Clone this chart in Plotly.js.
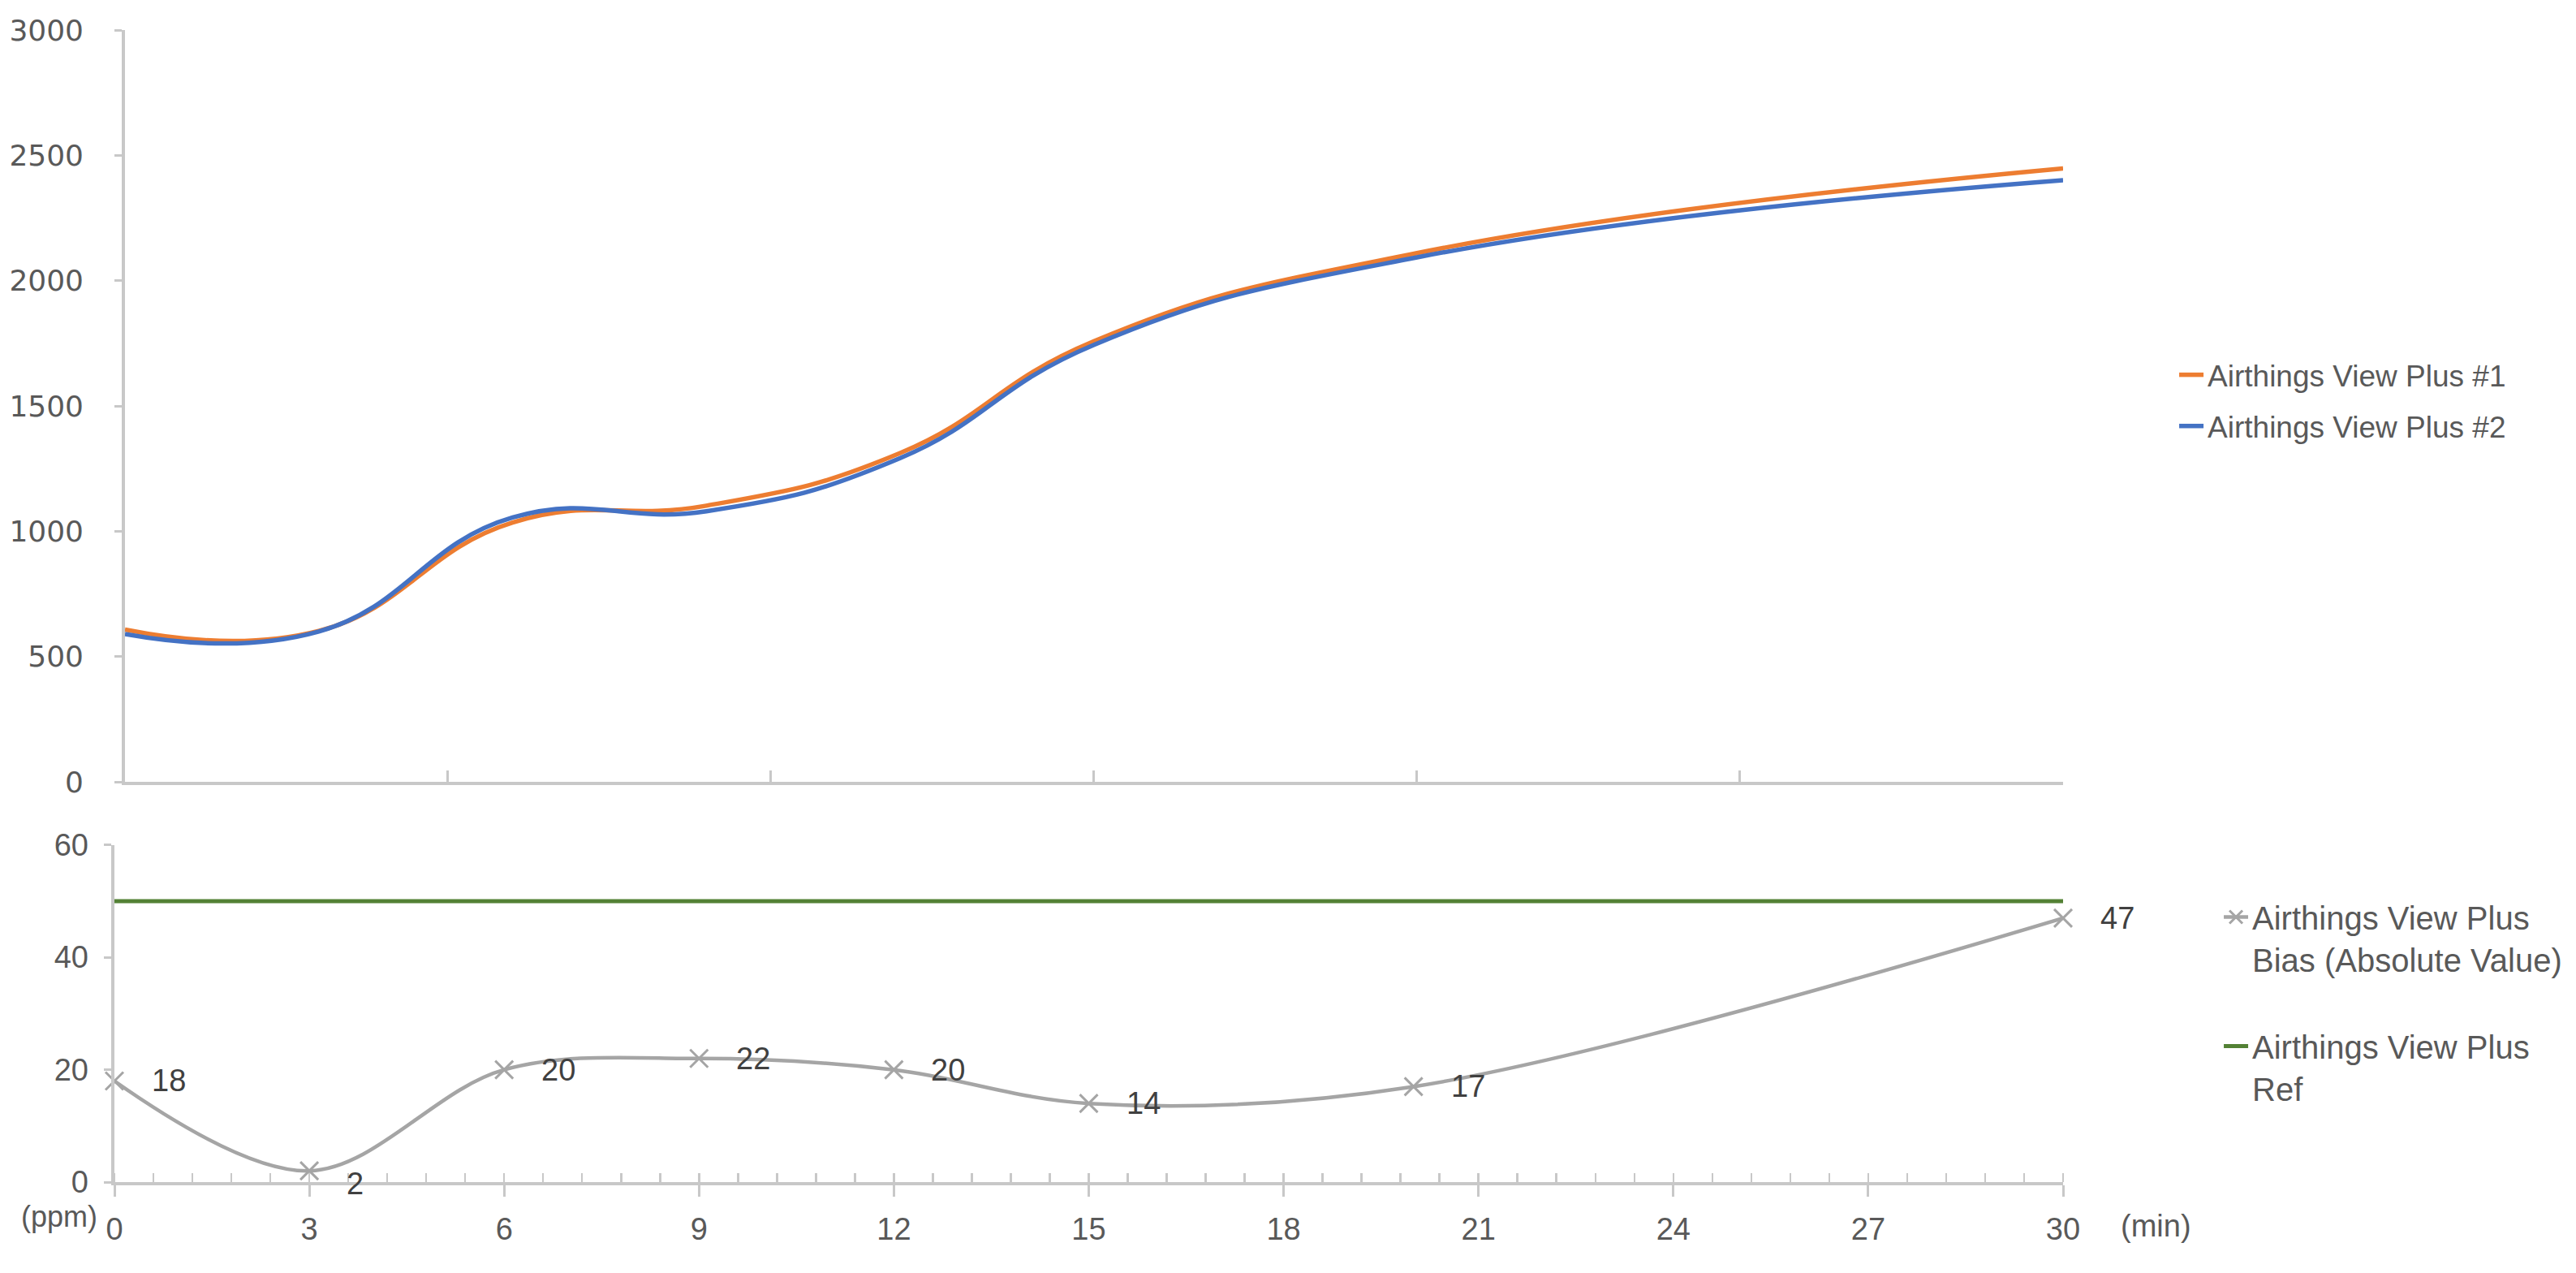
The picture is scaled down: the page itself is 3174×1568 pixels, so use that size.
<!DOCTYPE html>
<html>
<head>
<meta charset="utf-8">
<script src="https://cdn.plot.ly/plotly-3.0.1.min.js"></script>
<style>
  html, body { margin: 0; padding: 0; background: #fff; }
  #chart { width: 3174px; height: 1568px; }
</style>
</head>
<body>
<div id="chart"></div>
<script>
// sample times (min) shared by both panels
const minutes = [0, 3, 6, 9, 12, 15, 20, 30];

// CO2 readings (ppm) of the two units
const unit1 = [608, 602, 1035, 1102, 1312, 1758, 2110, 2448];
const unit2 = [590, 600, 1055, 1080, 1292, 1744, 2093, 2401];

// absolute bias between the units, and the reference limit
const bias = [18, 2, 20, 22, 20, 14, 17, 47];
const refLimit = [50, 50, 50, 50, 50, 50, 50, 50];

const names = [
  'Airthings View Plus #1',
  'Airthings View Plus #2',
  'Airthings View Plus<br>Bias (Absolute Value)',
  'Airthings View Plus<br>Ref'
];

const topTicks = [0, 500, 1000, 1500, 2000, 2500, 3000];
const biasTicks = [0, 20, 40, 60];

const FONT = '"Liberation Sans", Arial, sans-serif';
const AXIS = '#c8c8c8';
const TEXT = '#595959';

const traces = [
  {
    x: minutes, y: unit1, name: names[0], xaxis: 'x', yaxis: 'y',
    mode: 'lines', line: {color: '#ED7D31', width: 5.5, shape: 'spline', smoothing: 1.3},
    legend: 'legend', legendgroup: 'a'
  },
  {
    x: minutes, y: unit2, name: names[1], xaxis: 'x', yaxis: 'y',
    mode: 'lines', line: {color: '#4472C4', width: 5.5, shape: 'spline', smoothing: 1.3},
    legend: 'legend', legendgroup: 'b'
  },
  {
    x: minutes, y: bias, name: names[2], xaxis: 'x2', yaxis: 'y2',
    mode: 'lines+markers', line: {color: '#A5A5A5', width: 4.5, shape: 'spline', smoothing: 1},
    marker: {symbol: 'x-thin', size: 22, color: '#A5A5A5', line: {color: '#A5A5A5', width: 3}},
    cliponaxis: false, legend: 'legend2', legendgroup: 'c'
  },
  {
    x: minutes, y: refLimit, name: names[3], xaxis: 'x2', yaxis: 'y2',
    mode: 'lines', line: {color: '#538135', width: 5},
    legend: 'legend2', legendgroup: 'd'
  }
];

// data labels next to every bias marker
const lowest = bias.indexOf(Math.min(...bias));
const labels = bias.map((v, i) => ({
  x: minutes[i], y: v, xref: 'x2', yref: 'y2',
  text: String(v), showarrow: false,
  xanchor: 'left', yanchor: 'middle',
  xshift: 44, yshift: i === lowest ? -16 : 0,
  font: {family: FONT, size: 38, color: '#404040'}
}));

// y tick labels: fixed-width boxes, text right-aligned, a set gap from each axis
const yLabel = (v, yref, shift, font) => ({
  xref: 'paper', yref: yref, x: 0, y: v,
  text: String(v), showarrow: false,
  width: 100, align: 'right',
  xanchor: 'right', yanchor: 'middle', xshift: shift,
  font: font
});
const topLabels = topTicks.map(v =>
  yLabel(v, 'y', -36, {family: '"DejaVu Sans", sans-serif', size: 36, color: TEXT}));
const biasLabels = biasTicks.map(v =>
  yLabel(v, 'y2', -30, {family: FONT, size: 38, color: TEXT}));

const layout = {
  width: 3174,
  height: 1568,
  margin: {l: 141, r: 632, t: 37, b: 112},
  paper_bgcolor: '#fff',
  plot_bgcolor: '#fff',
  font: {family: FONT, size: 34, color: TEXT},
  showlegend: true,
  xaxis: {
    domain: [0.0054, 1], range: [0, 30], anchor: 'y',
    showline: true, linecolor: AXIS, linewidth: 4,
    ticks: 'inside', tick0: 0, dtick: 5, ticklen: 14, tickwidth: 3, tickcolor: AXIS,
    showticklabels: false, showgrid: false, zeroline: false
  },
  yaxis: {
    domain: [0.3474, 1], range: [0, 3000], anchor: 'x',
    tickvals: topTicks, showticklabels: false,
    showline: true, linecolor: AXIS, linewidth: 4,
    ticks: 'outside', ticklen: 9, tickwidth: 3, tickcolor: AXIS,
    showgrid: false, zeroline: false
  },
  xaxis2: {
    domain: [0, 1], range: [0, 30], anchor: 'y2',
    showline: true, linecolor: AXIS, linewidth: 4,
    ticks: 'outside', tick0: 0, dtick: 3, ticklen: 14, tickwidth: 3, tickcolor: AXIS,
    minor: {dtick: 0.6, ticks: 'inside', ticklen: 11, tickwidth: 2.5, tickcolor: AXIS},
    ticklabelstandoff: 7,
    tickfont: {family: FONT, size: 38, color: TEXT},
    showgrid: false, zeroline: false
  },
  xaxis3: {
    overlaying: 'x2', anchor: 'y2', range: [0, 30],
    tick0: 0, dtick: 3, ticks: 'inside', ticklen: 12, tickwidth: 3, tickcolor: AXIS,
    showticklabels: false, showline: false, showgrid: false, zeroline: false
  },
  yaxis2: {
    domain: [0, 0.2925], range: [0, 60], anchor: 'x2',
    tickvals: biasTicks, showticklabels: false,
    showline: true, linecolor: AXIS, linewidth: 4,
    ticks: 'outside', ticklen: 9, tickwidth: 3, tickcolor: AXIS,
    showgrid: false, zeroline: false
  },
  legend: {
    x: 1.0575, xanchor: 'left', y: 0.7223, yanchor: 'top',
    bgcolor: 'rgba(0,0,0,0)', traceorder: 'grouped', tracegroupgap: 12,
    font: {family: FONT, size: 37, color: TEXT}
  },
  legend2: {
    x: 1.0804, xanchor: 'left', y: 0.253, yanchor: 'top',
    bgcolor: 'rgba(0,0,0,0)', traceorder: 'grouped', tracegroupgap: 52,
    valign: 'top',
    font: {family: FONT, size: 40, color: TEXT}
  },
  annotations: labels.concat(topLabels, biasLabels, [
    {
      xref: 'paper', yref: 'paper', x: -0.0283, y: -0.0296,
      text: '(ppm)', showarrow: false, xanchor: 'center', yanchor: 'middle',
      font: {family: FONT, size: 36, color: TEXT}
    },
    {
      xref: 'paper', yref: 'paper', x: 1.0287, y: -0.038,
      text: '(min)', showarrow: false, xanchor: 'left', yanchor: 'middle',
      font: {family: FONT, size: 38, color: TEXT}
    }
  ])
};

Plotly.newPlot('chart', traces, layout, {displayModeBar: false, staticPlot: true});
</script>
</body>
</html>
